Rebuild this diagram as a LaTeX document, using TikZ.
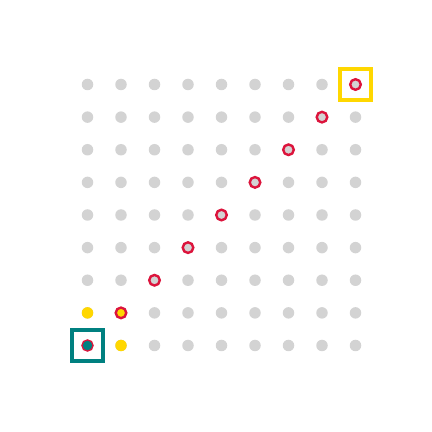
\documentclass[tikz,border=0pt]{standalone}
\usetikzlibrary{positioning}
\definecolor{dotgray}{HTML}{D3D3D3}
\definecolor{ringred}{HTML}{DC143C}
\definecolor{goldy}{HTML}{FFD700}
\definecolor{tealc}{HTML}{008080}
\tikzset{
  dot/.style={circle, fill=dotgray, minimum size=11.5bp, inner sep=0pt},
  ringdot/.style={circle, draw=ringred, line width=2.4bp, minimum size=10.6bp, inner sep=0pt},
  pathdot/.style={ringdot, fill=dotgray},
  nextdot/.style={dot, fill=goldy},
  curdot/.style={ringdot, fill=goldy},
  startdot/.style={ringdot, line width=1.3bp, minimum size=11.2bp, fill=tealc},
  startframe/.style={draw=tealc, line width=4bp, minimum size=31bp, inner sep=0pt},
  goalframe/.style={draw=goldy, line width=3.6bp, minimum size=31.5bp, inner sep=0pt},
}

\begin{document}
\begin{tikzpicture}[x=1bp, y=1bp]
  \useasboundingbox (0,0) rectangle (432,432);
  % grid of states
  \foreach \i in {0,...,8}
    \foreach \j in {0,...,8}
      \node[dot] (d\i\j) at (87.5+33.5*\i, 86.5+32.625*\j) {};
  % planned path
  \foreach \i in {2,...,8}
    \node[pathdot] (p\i) at (d\i\i) {};
  % current state and neighbours
  \node[nextdot] (n01) at (d01) {};
  \node[nextdot] (n10) at (d10) {};
  \node[curdot] (cur) at (d11) {};
  \node[startdot] (start) at (d00) {};
  % start and goal frames
  \node[startframe] (startbox) at (d00) {};
  \node[goalframe] (goalbox) at (d88) {};
\end{tikzpicture}
\end{document}
